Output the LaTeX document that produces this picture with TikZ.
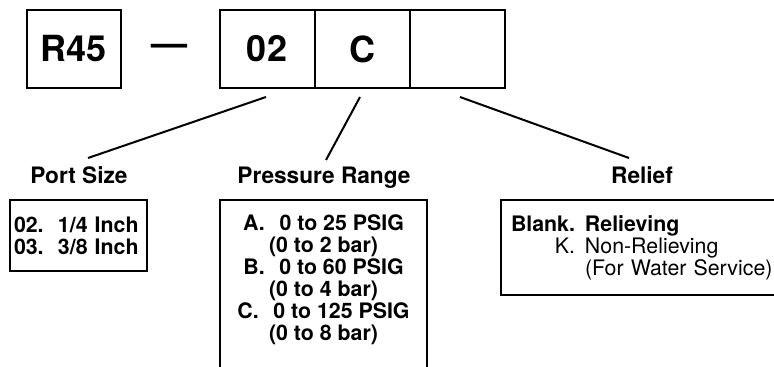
\documentclass[tikz,border=0pt]{standalone}
\usepackage{fontspec}
\setmainfont{TeX Gyre Heros}
\usepackage{tikz}
\usetikzlibrary{positioning,calc}

\begin{document}
\begin{tikzpicture}[x=0.75pt,y=0.75pt,
  every node/.style={font=\fontsize{16pt}{16.5pt}\selectfont},
  cellbox/.style={draw,line width=1.5pt,minimum width=71.25pt,minimum height=58.5pt,
    inner sep=0pt,outer sep=0pt,font=\fontsize{27pt}{30pt}\selectfont\bfseries},
  titre/.style={anchor=base,font=\fontsize{17pt}{18pt}\selectfont\bfseries},
  listbox/.style={draw,line width=1.5pt,anchor=north west,align=left,inner ysep=0pt,outer sep=0pt},
  lien/.style={line width=1.5pt}]
  \useasboundingbox (0,0) rectangle (774,367);
  \clip (0,0) rectangle (774,367);
  % Code produit
  \node[cellbox,minimum width=70.5pt] (r45) at (74,318){R45};
  \node[font=\fontsize{27pt}{30pt}\selectfont\bfseries] (tiret) at (169.5,317){\textemdash};
  \node[cellbox] (c02) at (267,318){02};
  \node[cellbox,right=0pt of c02] (cC){C};
  \node[cellbox,right=0pt of cC] (cvide){};
  % Titres
  \node[titre] (lblport) at (79,183){Port Size};
  \node[titre] (lblrange) at (324,183){Pressure Range};
  \node[titre] (lblrelief) at (642,183){Relief};
  % Traits de rappel
  \draw[lien] ($(c02.south)+(-1,-9)$) -- ($(lblport.base)+(9,26)$);
  \draw[lien] ($(cC.south)+(-2,-9)$) -- ($(lblrange.base)+(2,24)$);
  \draw[lien] ($(cvide.south)+(3,-9)$) -- ($(lblrelief.base)+(-13,26)$);
  % Port Size
  \node[listbox,text width=96.75pt,inner xsep=3pt,minimum height=53.25pt,
    font=\fontsize{16pt}{16.5pt}\selectfont\bfseries] (portbox) at (10,167)
    {\makebox[33pt][l]{02.}1/4 Inch\\
     \makebox[33pt][l]{03.}3/8 Inch};
  % Pressure Range
  \node[draw,line width=1.5pt,anchor=north,outer sep=0pt,minimum width=155.25pt,
    minimum height=129pt] (rangebox) at (323.5,167){};
  \node[anchor=north,align=center,inner sep=0pt,
    font=\fontsize{16pt}{16.5pt}\selectfont\bfseries] (rangetext) at ($(rangebox.north)+(0,-14)$)
    {A.\hspace{11pt}0 to 25 PSIG\\
     (0 to 2 bar)\\
     B.\hspace{11pt}0 to 60 PSIG\\
     (0 to 4 bar)\\
     C.\hspace{11pt}0 to 125 PSIG\\
     (0 to 8 bar)};
  % Relief
  \node[listbox,text width=201.75pt,inner xsep=7.5pt,minimum height=71.25pt] (reliefbox) at (501,167)
    {\makebox[55.5pt][l]{\bfseries Blank.}\textbf{Relieving}\\
     \makebox[55.5pt][r]{K.\hspace{7.5pt}}Non-Relieving\\
     \hspace*{55.5pt}(For Water Service)};
\end{tikzpicture}
\end{document}
